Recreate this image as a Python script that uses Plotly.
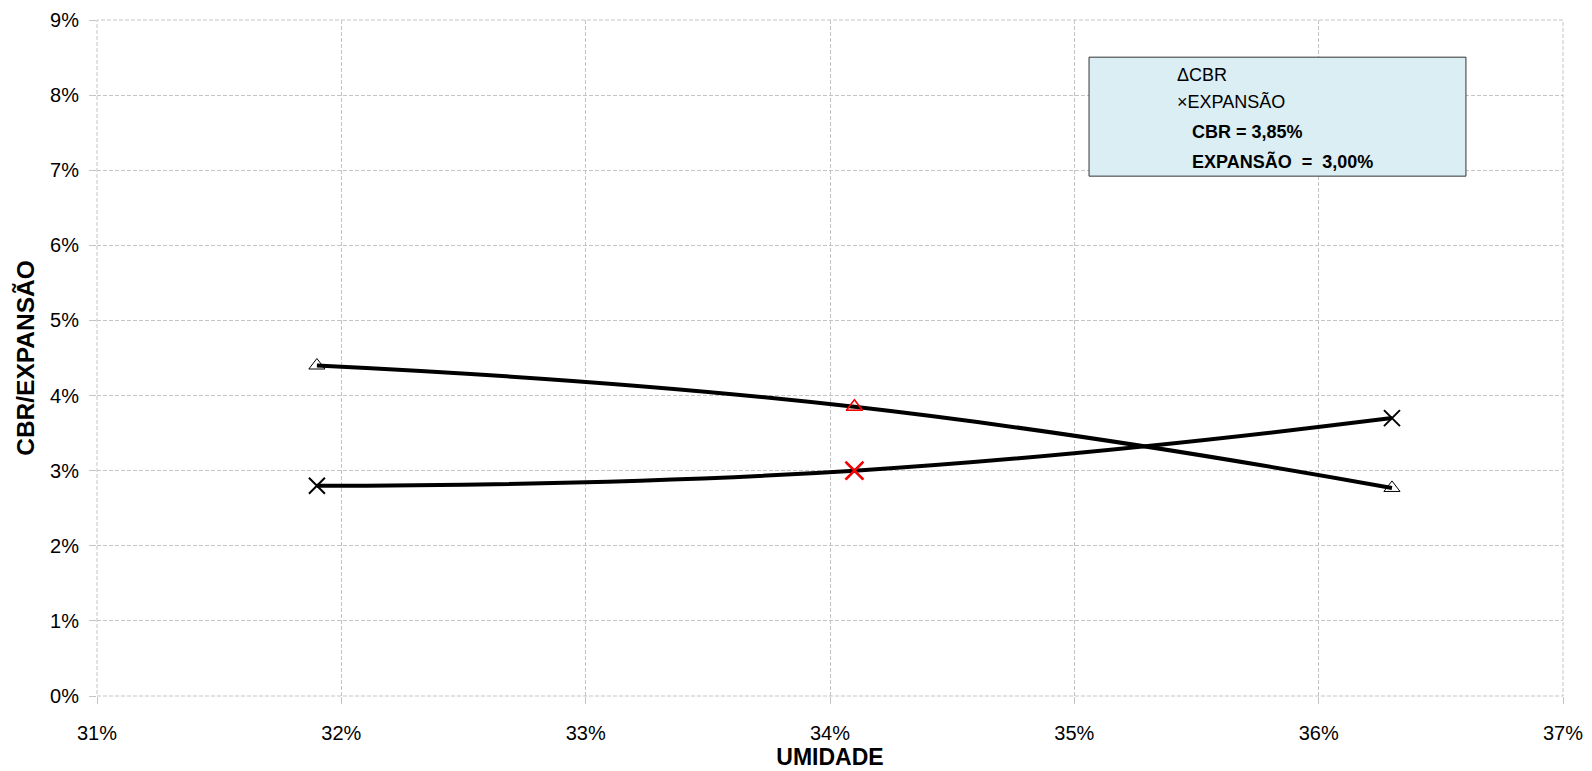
import plotly.graph_objects as go

# data
umidade = [0.319, 0.341, 0.363]
cbr = [0.044, 0.0385, 0.0277]
expansao = [0.028, 0.030, 0.037]

# design point (red markers)
umidade_ot = [0.341]
cbr_ot = [0.0385]
expansao_ot = [0.030]

FONT = 'Liberation Sans, Arial'
GRID = '#C4C4C4'

fig = go.Figure()

fig.add_trace(go.Scatter(
    x=umidade, y=cbr, mode='lines+markers', name='CBR',
    line=dict(color='black', width=4, shape='spline', smoothing=1.3),
    marker=dict(symbol='triangle-up-open', size=14, color='black', line=dict(width=1)),
))
fig.add_trace(go.Scatter(
    x=umidade, y=expansao, mode='lines+markers', name='EXPANSÃO',
    line=dict(color='black', width=4, shape='spline', smoothing=1.3),
    marker=dict(symbol='x-thin-open', size=16, color='black', line=dict(width=2, color='black')),
))
fig.add_trace(go.Scatter(
    x=umidade_ot, y=cbr_ot, mode='markers', name='CBR ótimo',
    marker=dict(symbol='triangle-up-open', size=14, color='red', line=dict(width=1.5, color='red')),
))
fig.add_trace(go.Scatter(
    x=umidade_ot, y=expansao_ot, mode='markers', name='EXPANSÃO ótima',
    marker=dict(symbol='x-thin-open', size=18, color='red', line=dict(width=2.5, color='red')),
))

# dashed frame around the plot area (edge gridlines)
fig.add_shape(type='rect', xref='paper', yref='paper', x0=0, x1=1, y0=0, y1=1,
              line=dict(color=GRID, width=1, dash='4px,2px'), layer='below')

# legend box (drawn by hand)
fig.add_shape(type='rect', xref='paper', yref='paper',
              x0=0.6767, x1=0.9338, y0=0.769, y1=0.945,
              fillcolor='#DAEEF3', line=dict(color='#333333', width=1), layer='above')

leg_font = dict(family=FONT, size=18, color='black')
leg_rows = [
    (0.7353, 0.919, '\u0394CBR'),
    (0.7353, 0.880, '\u00d7EXPANSÃO'),
    (0.7456, 0.835, '<b>CBR = 3,85%</b>'),
    (0.7456, 0.791, '<b>EXPANSÃO  =  3,00%</b>'),
]
for lx, ly, txt in leg_rows:
    fig.add_annotation(x=lx, y=ly, xref='paper', yref='paper', xanchor='left', yanchor='middle',
                       text=txt, showarrow=False, font=leg_font)

grid = dict(showgrid=True, gridcolor=GRID, griddash='4px,2px', gridwidth=1,
            zeroline=False, showline=False, automargin=False,
            ticks='outside', ticklen=7, tickcolor=GRID, tickformat='.0%',
            tickfont=dict(family=FONT, size=20, color='black'))

fig.update_xaxes(range=[0.31, 0.37], dtick=0.01, ticklabelstandoff=12,
                 title=dict(text='<b>UMIDADE</b>', standoff=4,
                            font=dict(family=FONT, size=23, color='black')),
                 **grid)
fig.update_yaxes(range=[0, 0.09], dtick=0.01, ticklabelstandoff=6,
                 title=dict(text='<b>CBR/EXPANSÃO</b>', standoff=8,
                            font=dict(family=FONT, size=24.5, color='black')),
                 **grid)

# page body adds an 8px offset, so the figure is 8px smaller than the window
fig.update_layout(
    width=1584, height=763,
    margin=dict(l=89, r=29, t=12, b=75),
    plot_bgcolor='white', paper_bgcolor='white',
    showlegend=False,
)

fig.write_html("out.html")
